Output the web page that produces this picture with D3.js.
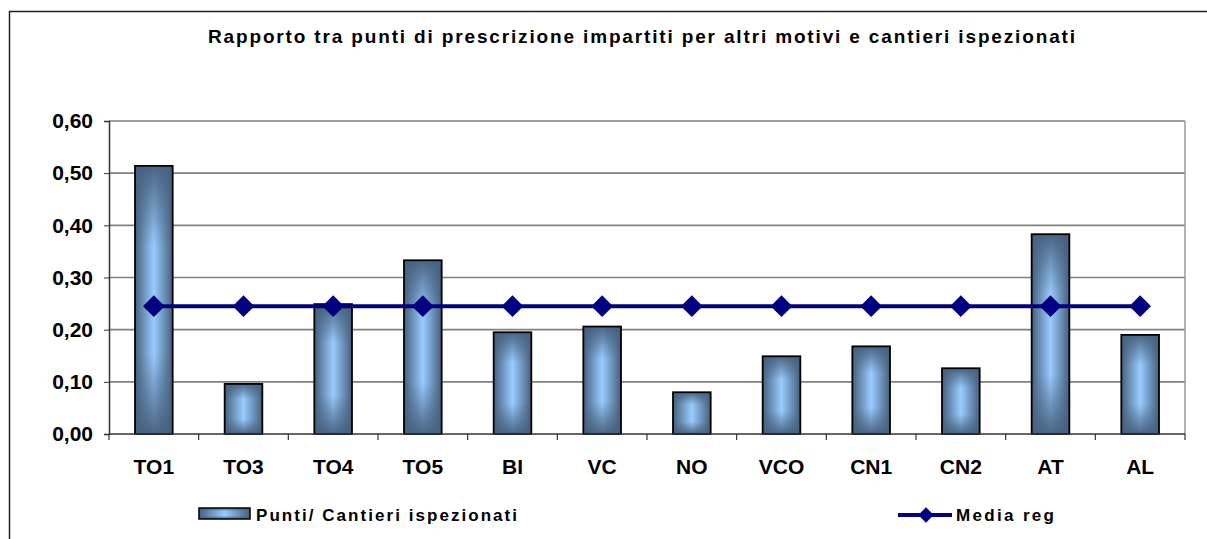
<!DOCTYPE html>
<html>
<head>
<meta charset="utf-8">
<script src="https://cdn.jsdelivr.net/npm/d3@7"></script>
<style>
  body { margin: 0; background: #fff; }
  svg { display: block; font-family: "Liberation Sans", Arial, sans-serif; }
</style>
</head>
<body>
<div id="chart"></div>
<script>
const categories = ["TO1", "TO3", "TO4", "TO5", "BI", "VC", "NO", "VCO", "CN1", "CN2", "AT", "AL"];
const ratioValues = [0.514, 0.096, 0.249, 0.333, 0.195, 0.206, 0.080, 0.149, 0.168, 0.126, 0.383, 0.190];
const mediaValues = [0.245, 0.245, 0.245, 0.245, 0.245, 0.245, 0.245, 0.245, 0.245, 0.245, 0.245, 0.245];
const yTicks = [0, 0.1, 0.2, 0.3, 0.4, 0.5, 0.6];
const chartTitle = "Rapporto tra punti di prescrizione impartiti per altri motivi e cantieri ispezionati";
const barLabel = "Punti/ Cantieri ispezionati";
const lineLabel = "Media reg";

const outerwidth = 1207;
const outerheight = 539;
const plot = { left: 109, right: 1185, top: 121, bottom: 434 };

const svg = d3.select("#chart")
	.append("svg")
	.attr("width", outerwidth)
	.attr("height", outerheight);

// gradients for the bars: dark edges, light centre
const defs = svg.append("defs");
const gx = defs.append("linearGradient").attr("id", "barH").attr("x1", 0).attr("x2", 1).attr("y1", 0).attr("y2", 0);
gx.append("stop").attr("offset", "0%").attr("stop-color", "#46607e");
gx.append("stop").attr("offset", "50%").attr("stop-color", "#99ccff");
gx.append("stop").attr("offset", "100%").attr("stop-color", "#46607e");
const gy = defs.append("linearGradient").attr("id", "barV").attr("x1", 0).attr("x2", 0).attr("y1", 0).attr("y2", 1);
gy.append("stop").attr("offset", "0%").attr("stop-color", "#46607e").attr("stop-opacity", 0.95);
gy.append("stop").attr("offset", "30%").attr("stop-color", "#46607e").attr("stop-opacity", 0);
gy.append("stop").attr("offset", "70%").attr("stop-color", "#46607e").attr("stop-opacity", 0);
gy.append("stop").attr("offset", "100%").attr("stop-color", "#46607e").attr("stop-opacity", 0.95);

// outer frame
svg.append("rect")
	.attr("x", 9.5).attr("y", 11.5)
	.attr("width", 1400).attr("height", 800)
	.attr("fill", "none").attr("stroke", "#222").attr("stroke-width", 1.5);

// title
svg.append("text")
	.attr("x", 208).attr("y", 43)
	.attr("font-size", 19).attr("font-weight", "bold")
	.attr("textLength", 867).attr("lengthAdjust", "spacing")
	.text(chartTitle);

const xscale = d3.scaleBand().domain(categories)
	.range([plot.left, plot.right]).paddingInner(0.58).paddingOuter(0.29);
const step = xscale.step();
const yscale = d3.scaleLinear().domain([0, 0.6]).range([plot.bottom, plot.top]);
const fmt = d => d3.format(".2f")(d).replace(".", ",");

// grid
svg.append("g")
	.selectAll("line").data(yTicks.filter(d => d > 0)).join("line")
	.attr("x1", plot.left).attr("x2", plot.right)
	.attr("y1", d => yscale(d)).attr("y2", d => yscale(d))
	.attr("stroke", "#808080").attr("stroke-width", 1.6);
svg.append("line")
	.attr("x1", plot.right).attr("x2", plot.right)
	.attr("y1", plot.top).attr("y2", plot.bottom)
	.attr("stroke", "#9a9a9a").attr("stroke-width", 1.5);

// bars
const bars = svg.append("g").selectAll("g").data(ratioValues).join("g");
bars.append("rect")
	.attr("x", (d, i) => xscale(categories[i]))
	.attr("y", d => yscale(d))
	.attr("width", xscale.bandwidth())
	.attr("height", d => plot.bottom - yscale(d))
	.attr("fill", "url(#barH)");
bars.append("rect")
	.attr("x", (d, i) => xscale(categories[i]))
	.attr("y", d => yscale(d))
	.attr("width", xscale.bandwidth())
	.attr("height", d => plot.bottom - yscale(d))
	.attr("fill", "url(#barV)")
	.attr("stroke", "#000").attr("stroke-width", 1.8);

// y axis
svg.append("g")
	.attr("transform", "translate(" + plot.left + ",0)")
	.call(d3.axisLeft(yscale).tickValues(yTicks).tickFormat(fmt).tickSize(5).tickPadding(11))
	.call(g => g.select(".domain").attr("stroke", "#333").attr("stroke-width", 1.5))
	.call(g => g.selectAll(".tick line").attr("stroke", "#333"))
	.call(g => g.selectAll("text").attr("font-size", 21).attr("font-weight", "bold")
		.attr("font-family", "Liberation Sans, Arial, sans-serif").attr("fill", "#000"));

// x axis: labels at centres, ticks at category boundaries
svg.append("g")
	.attr("transform", "translate(0," + plot.bottom + ")")
	.call(d3.axisBottom(xscale).tickSize(0).tickPadding(25))
	.call(g => g.select(".domain").remove())
	.call(g => g.selectAll("text").attr("font-size", 21).attr("font-weight", "bold")
		.attr("font-family", "Liberation Sans, Arial, sans-serif").attr("fill", "#000"));
const bounds = categories.map(c => xscale(c) + xscale.bandwidth() / 2 - step / 2)
	.concat([xscale(categories[categories.length - 1]) + xscale.bandwidth() / 2 + step / 2]);
svg.append("g").selectAll("line").data(bounds).join("line")
	.attr("x1", d => d).attr("x2", d => d)
	.attr("y1", plot.bottom).attr("y2", plot.bottom + 6)
	.attr("stroke", "#333").attr("stroke-width", 1.2);
svg.append("line")
	.attr("x1", plot.left).attr("x2", plot.right)
	.attr("y1", plot.bottom).attr("y2", plot.bottom)
	.attr("stroke", "#333").attr("stroke-width", 1.5);

// media line
const cx = i => xscale(categories[i]) + xscale.bandwidth() / 2;
svg.append("path").datum(mediaValues)
	.attr("fill", "none").attr("stroke", "#000080").attr("stroke-width", 4)
	.attr("d", d3.line().x((d, i) => cx(i)).y(d => yscale(d)));
svg.append("g").selectAll("path").data(mediaValues).join("path")
	.attr("transform", (d, i) => "translate(" + cx(i) + "," + yscale(d) + ")")
	.attr("d", d3.symbol(d3.symbolDiamond2, 300))
	.attr("fill", "#000080");

// legend
const leg = svg.append("g");
leg.append("rect").attr("x", 199).attr("y", 508).attr("width", 51).attr("height", 11).attr("fill", "url(#barH)");
leg.append("rect").attr("x", 199).attr("y", 508).attr("width", 51).attr("height", 11)
	.attr("fill", "url(#barV)").attr("stroke", "#000").attr("stroke-width", 1.5);
leg.append("text").attr("x", 256).attr("y", 521)
	.attr("font-size", 17).attr("font-weight", "bold")
	.attr("textLength", 261).attr("lengthAdjust", "spacing")
	.text(barLabel);
leg.append("line").attr("x1", 898).attr("x2", 952).attr("y1", 515).attr("y2", 515)
	.attr("stroke", "#000080").attr("stroke-width", 4);
leg.append("path").attr("transform", "translate(926,515)")
	.attr("d", d3.symbol(d3.symbolDiamond2, 150)).attr("fill", "#000080");
leg.append("text").attr("x", 956).attr("y", 521)
	.attr("font-size", 17).attr("font-weight", "bold")
	.attr("textLength", 98).attr("lengthAdjust", "spacing")
	.text(lineLabel);
</script>
</body>
</html>
